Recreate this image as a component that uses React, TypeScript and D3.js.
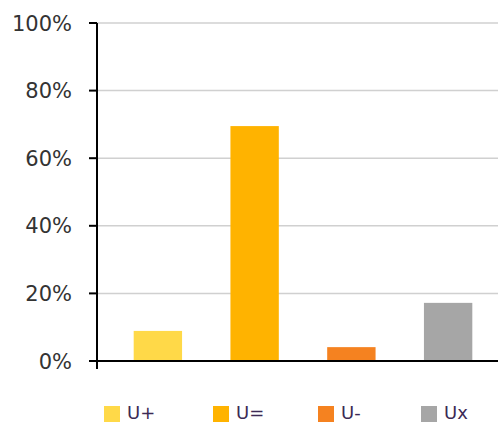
import React from "react";
import * as d3 from "d3";

const categories = ["U+", "U=", "U-", "Ux"];
const values = [0.089, 0.695, 0.041, 0.172];
const colors = ["#FFD948", "#FFB300", "#F58220", "#A6A6A6"];
const yTicks = [0, 0.2, 0.4, 0.6, 0.8, 1.0];

export default function App() {
  const W = 498, H = 423;
  const axisX = 97;
  const y = d3.scaleLinear().domain([0, 1]).range([361, 23]);
  const x = d3.scaleBand<string>().domain(categories).range([109.5, 496.5]).paddingInner(0.5).paddingOuter(0.25);
  const fmt = d3.format(".0%");
  const legendX = [104, 213, 318, 421];
  return (
    <svg width={W} height={H} style={{ position: "absolute", left: 0, top: 0, background: "#fff" }}
      fontFamily="DejaVu Sans, Verdana, sans-serif">
      {yTicks.filter(t => t > 0).map(t => (
        <line key={"g" + t} x1={axisX} x2={W} y1={y(t)} y2={y(t)} stroke="#D0D0D0" strokeWidth={1.5} />
      ))}
      {categories.map((c, i) => (
        <rect key={c} x={x(c)} width={x.bandwidth()} y={y(values[i])} height={y(0) - y(values[i])} fill={colors[i]} />
      ))}
      <line x1={axisX - 8} x2={W} y1={y(0)} y2={y(0)} stroke="#000" strokeWidth={2} />
      <line x1={axisX} x2={axisX} y1={y(1)} y2={y(0) + 8} stroke="#000" strokeWidth={2} />
      {yTicks.map(t => (
        <g key={"t" + t}>
          <line x1={axisX - 8} x2={axisX} y1={y(t)} y2={y(t)} stroke="#000" strokeWidth={2} />
          <text x={72} y={y(t)} dy="0.36em" textAnchor="end" fontSize={21} fill="#333">{fmt(t)}</text>
        </g>
      ))}
      {categories.map((c, i) => (
        <g key={"l" + c}>
          <rect x={legendX[i]} y={406} width={16} height={16} fill={colors[i]} />
          <text x={legendX[i] + 23} y={419} fontSize={18} fill="#3C2A55">{c}</text>
        </g>
      ))}
    </svg>
  );
}
